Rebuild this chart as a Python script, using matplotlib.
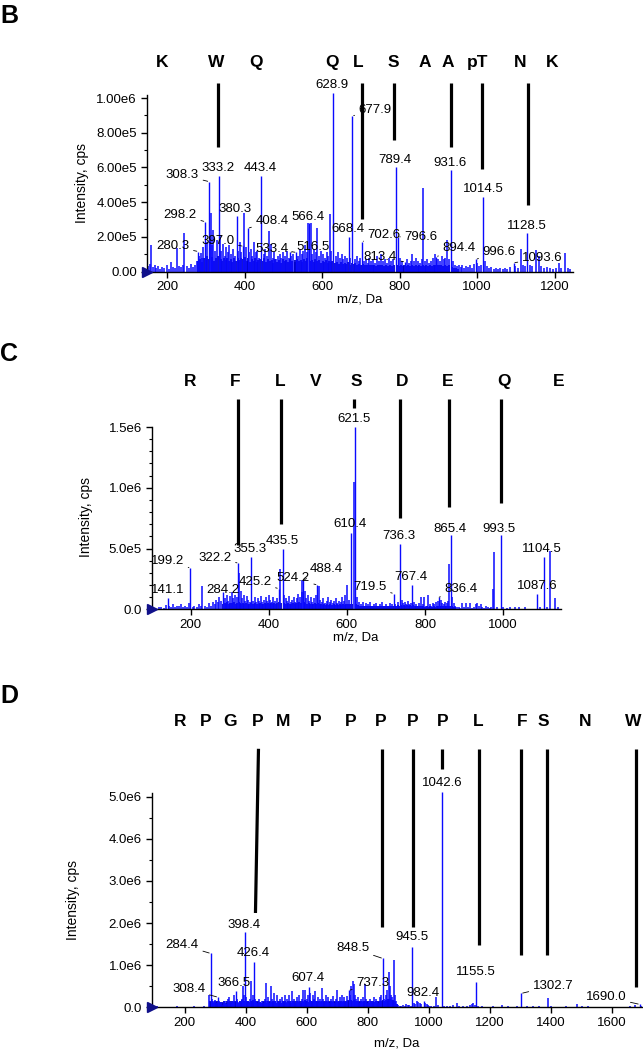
import math
import matplotlib
matplotlib.use('Agg')
import matplotlib.pyplot as plt
from matplotlib.ticker import MultipleLocator, FuncFormatter

plt.rcParams['font.family'] = ['Liberation Sans', 'DejaVu Sans']

# ================= DATA (intensities in kcps) =================
# ---- Panel B ----
b_minor = [
    (152, 30), (156, 45), (159, 153), (163, 25), (168, 35), (172, 20), (177, 30), (182, 15), (188, 25), (193, 20),
    (199, 35), (204, 15), (210, 55), (216, 25), (221, 20), (225, 134), (230, 30), (236, 25), (240, 40), (245, 220),
    (251, 30), (257, 20), (262, 45), (268, 25), (272, 35), (276, 60), (283, 90), (287, 105), (291, 80), (294, 140),
    (302, 170), (311, 200), (313, 337), (316, 150), (319, 240), (324, 120), (328, 180), (336, 210), (340, 120), (345, 160),
    (349, 90), (353, 140), (357, 110), (361, 150), (366, 100), (370, 130), (374, 90), (384, 120), (388, 170), (392, 110),
    (399, 335), (403, 140), (412, 110), (416, 130), (420, 90), (425, 170), (429, 110), (433, 120), (437, 80), (449, 100),
    (453, 130), (458, 90), (463, 233), (468, 160), (472, 80), (476, 110), (481, 70), (486, 90), (491, 100), (495, 80),
    (500, 110), (505, 90), (510, 120), (514, 80), (520, 90), (526, 100), (538, 90), (543, 130), (547, 100), (551, 120),
    (556, 150), (560, 110), (564, 278), (570, 278), (575, 100), (580, 130), (584, 110), (588, 249), (593, 90), (598, 120),
    (603, 100), (608, 80), (612, 110), (616, 90), (620, 331), (624, 120), (635, 90), (640, 110), (645, 80), (650, 100),
    (655, 70), (660, 90), (664, 80), (673, 80), (684, 70), (689, 90), (694, 60), (698, 80), (708, 60), (713, 70),
    (718, 50), (722, 80), (727, 60), (732, 70), (737, 50), (742, 90), (747, 60), (752, 100), (757, 60), (762, 70),
    (767, 50), (772, 80), (777, 60), (782, 70), (801, 80), (805, 60), (818, 70), (823, 50), (828, 60), (833, 100),
    (838, 60), (843, 80), (848, 60), (853, 50), (857, 70), (861, 480), (866, 60), (871, 70), (876, 50), (881, 60),
    (886, 80), (890, 100), (899, 70), (904, 60), (909, 90), (914, 70), (918, 80), (923, 180), (928, 70), (937, 60),
    (942, 40), (947, 30), (952, 40), (957, 25), (962, 35), (967, 20), (972, 30), (977, 25), (982, 35), (987, 20),
    (992, 45), (1000, 50), (1004, 30), (1009, 40), (1020, 60), (1025, 30), (1031, 20), (1036, 25), (1042, 15), (1048, 20),
    (1054, 15), (1060, 20), (1066, 15), (1072, 20), (1078, 15), (1085, 25), (1097, 30), (1104, 20), (1112, 128), (1118, 40),
    (1124, 30), (1136, 40), (1142, 30), (1151, 125), (1160, 90), (1165, 30), (1172, 20), (1180, 25), (1188, 20), (1196, 15),
    (1203, 20), (1210, 50), (1216, 20), (1226, 105), (1235, 20), (1240, 15),
]
# low-level chemical-noise carpet of panel B
b_carpet = [
    (281, 60), (285, 70), (289, 55), (296, 80), (300, 65), (304, 90), (309, 70), (315, 85), (321, 60), (326, 75),
    (331, 90), (338, 70), (343, 60), (347, 80), (351, 65), (355, 75), (359, 60), (364, 70), (368, 55), (372, 80),
    (377, 60), (382, 75), (386, 65), (390, 80), (395, 70), (401, 85), (406, 60), (410, 75), (414, 55), (418, 70),
    (423, 60), (427, 80), (431, 55), (435, 65), (440, 70), (446, 60), (451, 75), (456, 55), (460, 70), (466, 60),
    (470, 65), (474, 50), (479, 70), (484, 55), (488, 65), (493, 50), (498, 70), (503, 60), (508, 65), (512, 55),
    (518, 70), (523, 60), (529, 65), (531, 55), (536, 70), (541, 60), (545, 65), (549, 55), (554, 70), (558, 60),
    (562, 75), (568, 60), (573, 65), (578, 55), (582, 70), (586, 60), (591, 65), (596, 50), (601, 60), (606, 55),
    (610, 65), (614, 50), (618, 60), (622, 55), (626, 60), (632, 50), (638, 55), (643, 45), (648, 55), (653, 45),
    (658, 50), (662, 45), (666, 55), (671, 40), (676, 50), (681, 45), (686, 50), (691, 40), (696, 45), (700, 40),
    (705, 45), (711, 35), (716, 40), (720, 35), (725, 40), (730, 35), (735, 40), (740, 30), (745, 40), (750, 35),
    (755, 40), (760, 30), (765, 35), (770, 30), (775, 40), (780, 30), (785, 35), (792, 40), (799, 30), (803, 35),
    (808, 30), (812, 35), (816, 30), (821, 35), (826, 30), (831, 35), (836, 30), (841, 35), (846, 30), (851, 35),
    (855, 30), (859, 35), (864, 30), (869, 35), (874, 30), (879, 35), (884, 30), (888, 40), (892, 35), (897, 40),
    (902, 35), (907, 40), (912, 30), (916, 35), (921, 30), (926, 35), (934, 25), (940, 20), (945, 20), (950, 15),
]
b_peak_mz = [280.3, 298.2, 308.3, 333.2, 380.3, 397.0, 408.4, 443.4, 533.4, 516.5, 566.4, 628.9,
             668.4, 677.9, 702.6, 789.4, 796.6, 813.4, 894.4, 931.6, 996.6, 1014.5, 1093.6, 1128.5]
b_peak_k = [115, 287, 518, 552, 320, 145, 249, 552, 110, 110, 280, 1030,
            197, 897, 172, 600, 200, 55, 85, 585, 70, 431, 50, 220]
b_peak_text = ['280.3', '298.2', '308.3', '333.2', '380.3', '397.0', '408.4', '443.4', '533.4', '516.5', '566.4', '628.9',
               '668.4', '677.9', '702.6', '789.4', '796.6', '813.4', '894.4', '931.6', '996.6', '1014.5', '1093.6', '1128.5']
b_residues = ['K', 'W', 'Q', 'Q', 'L', 'S', 'A', 'A', 'pT', 'N', 'K']
b_residue_mz = [188, 327, 430, 626, 693, 783, 866, 923, 1002, 1111, 1193]
b_bar_top_mz = [332.4, 703.5, 786, 932.8, 1012.7, 1131]
b_bar_bot_mz = [332.4, 703.5, 786, 932.8, 1012.7, 1131]
b_bar_bot_k = [717, 303, 758, 717, 591, 383]
b_yticks = [0, 2e5, 4e5, 6e5, 8e5, 1e6]
b_xticks = [200, 400, 600, 800, 1000, 1200]

# ---- Panel C ----
c_minor = [
    (118, 15), (125, 20), (131, 10), (137, 35), (146, 30), (151, 15), (156, 40), (160, 20), (165, 30), (170, 25),
    (176, 45), (181, 20), (186, 30), (190, 15), (195, 50), (205, 20), (210, 30), (216, 15), (222, 40), (227, 25),
    (230, 190), (236, 30), (241, 20), (246, 50), (252, 30), (257, 60), (262, 40), (266, 80), (270, 60), (274, 100),
    (278, 70), (288, 90), (292, 120), (296, 70), (300, 110), (305, 145), (309, 90), (313, 120), (318, 100), (325, 300),
    (328, 150), (332, 90), (336, 120), (340, 70), (344, 110), (348, 80), (352, 60), (360, 70), (364, 100), (368, 60),
    (372, 90), (376, 70), (380, 110), (384, 60), (388, 80), (392, 100), (396, 70), (400, 120), (404, 80), (408, 60),
    (412, 100), (416, 70), (420, 90), (430, 330), (440, 120), (444, 90), (448, 70), (452, 110), (456, 60), (460, 80),
    (464, 100), (468, 60), (472, 90), (476, 130), (480, 100), (484, 140), (486, 240), (492, 150), (496, 90), (500, 120),
    (504, 70), (508, 100), (512, 60), (516, 90), (520, 120), (528, 190), (532, 80), (536, 60), (540, 90), (544, 50),
    (548, 70), (552, 100), (556, 60), (560, 80), (564, 50), (568, 70), (572, 90), (576, 50), (580, 70), (584, 60),
    (588, 100), (592, 70), (596, 120), (600, 200), (605, 80), (619, 1050), (626, 100), (630, 60), (635, 40), (640, 60),
    (645, 30), (650, 50), (655, 40), (660, 60), (665, 30), (670, 40), (675, 50), (680, 30), (685, 40), (690, 60),
    (695, 30), (700, 40), (705, 30), (710, 50), (715, 40), (724, 40), (728, 30), (732, 60), (740, 80), (744, 50),
    (748, 60), (752, 40), (756, 70), (760, 40), (764, 50), (772, 60), (776, 40), (780, 30), (785, 50), (790, 100),
    (794, 40), (798, 100), (803, 30), (808, 120), (812, 40), (816, 30), (820, 50), (824, 40), (828, 60), (832, 70),
    (840, 80), (844, 50), (848, 40), (852, 60), (856, 50), (860, 70), (862, 370), (870, 100), (874, 50), (878, 30),
    (882, 20), (886, 15), (890, 10), (895, 50), (900, 20), (905, 50), (910, 15), (915, 50), (920, 10), (925, 20),
    (930, 40), (934, 50), (938, 30), (942, 40), (946, 20), (950, 10), (955, 25), (960, 15), (966, 10), (970, 20),
    (973, 170), (976, 470), (985, 20), (1000, 20), (1010, 10), (1018, 20), (1030, 15), (1040, 20), (1055, 15), (1095, 20),
    (1112, 15), (1121, 480), (1132, 90), (1140, 15),
]
c_carpet = [
    (283, 45), (287, 55), (290, 40), (294, 60), (298, 45), (302, 55), (307, 50), (311, 60), (315, 45), (320, 55),
    (323, 60), (327, 50), (330, 45), (334, 55), (338, 40), (342, 50), (346, 45), (350, 40), (354, 50), (357, 45),
    (362, 40), (366, 50), (370, 45), (374, 40), (378, 50), (382, 45), (386, 40), (390, 50), (394, 45), (398, 55),
    (402, 45), (406, 50), (410, 40), (414, 55), (418, 45), (422, 50), (427, 60), (432, 55), (438, 50), (442, 45),
    (446, 40), (450, 50), (454, 45), (458, 40), (462, 50), (466, 45), (470, 55), (474, 50), (478, 60), (482, 55),
    (490, 60), (494, 50), (498, 45), (502, 50), (506, 40), (510, 45), (514, 40), (518, 50), (522, 45), (526, 50),
    (530, 40), (534, 45), (538, 35), (542, 40), (546, 35), (550, 40), (554, 35), (558, 40), (562, 35), (566, 40),
    (570, 35), (574, 40), (578, 35), (582, 40), (586, 35), (590, 40), (594, 35), (598, 45), (602, 40), (607, 45),
    (612, 40), (624, 40), (628, 35), (633, 30), (638, 25), (643, 30), (648, 25), (653, 30), (658, 25), (663, 30),
    (668, 25), (673, 30), (678, 25), (683, 30), (688, 25), (693, 30), (698, 25), (703, 30), (708, 25), (713, 30),
    (717, 25), (722, 30), (726, 25), (730, 35), (734, 30), (738, 35), (742, 30), (746, 35), (750, 30), (754, 35),
    (758, 30), (762, 35), (766, 30), (770, 35), (774, 30), (778, 25), (782, 30), (788, 25), (792, 30), (796, 25),
    (800, 20), (806, 25), (810, 20), (814, 25), (818, 20), (822, 25), (826, 20), (830, 30), (834, 25), (838, 30),
    (842, 25), (846, 30), (850, 25), (854, 30), (858, 25), (864, 30), (868, 25), (872, 20), (876, 15),
]
c_peak_mz = [141.1, 199.2, 284.2, 322.2, 355.3, 425.2, 435.5, 488.4, 524.2, 610.4, 621.5,
             719.5, 736.3, 767.4, 836.4, 865.4, 993.5, 1087.6, 1104.5]
c_peak_k = [97, 340, 140, 380, 430, 170, 500, 240, 200, 630, 1500,
            130, 540, 200, 100, 610, 610, 130, 430]
c_peak_text = ['141.1', '199.2', '284.2', '322.2', '355.3', '425.2', '435.5', '488.4', '524.2', '610.4', '621.5',
               '719.5', '736.3', '767.4', '836.4', '865.4', '993.5', '1087.6', '1104.5']
c_residues = ['R', 'F', 'L', 'V', 'S', 'D', 'E', 'Q', 'E']
c_residue_mz = [199, 314, 429, 519, 623.5, 741, 858.7, 1002, 1142]
c_bar_top_mz = [321.9, 431, 619.2, 736, 861.3, 994]
c_bar_bot_mz = [321.9, 431, 619.2, 736, 861.3, 994]
c_bar_bot_k = [529, 702, 1654, 754, 840, 872]
c_yticks = [0, 5e5, 1e6, 1.5e6]
c_xticks = [200, 400, 600, 800, 1000]

# ---- Panel D ----
d_minor = [
    (110, 20), (175, 30), (230, 20), (262, 20), (280, 300), (288, 200), (292, 150), (296, 120), (300, 180), (304, 100),
    (312, 150), (316, 80), (320, 120), (324, 60), (328, 100), (332, 150), (336, 80), (340, 200), (346, 250), (350, 120),
    (354, 80), (358, 150), (362, 300), (370, 200), (374, 120), (378, 80), (382, 150), (386, 200), (390, 500), (395, 300),
    (402, 250), (406, 150), (410, 100), (414, 200), (418.6, 630), (422, 300), (430, 200), (434, 150), (438, 100), (442, 200),
    (446, 120), (450, 80), (454, 150), (458, 100), (462, 200), (466.7, 580), (470, 150), (474, 250), (478, 100), (483, 500),
    (487, 200), (491, 350), (495, 150), (499, 100), (503, 300), (507, 120), (511, 200), (515, 100), (519, 250), (523, 150),
    (527, 300), (531, 120), (535, 200), (539, 100), (543, 300), (547, 150), (551, 380), (555, 120), (559, 200), (563, 100),
    (567, 250), (571, 150), (575, 300), (579, 100), (583, 200), (587, 400), (591, 150), (595, 420), (599, 200), (603, 300),
    (611, 350), (615, 150), (619, 300), (623, 200), (627, 380), (631, 150), (635, 250), (639, 100), (643, 200), (647, 150),
    (650, 450), (654, 200), (658, 120), (662, 300), (666, 150), (670, 250), (674, 100), (678, 200), (682, 150), (686, 280),
    (690, 100), (694, 200), (699, 400), (703, 150), (707, 250), (711, 100), (715, 300), (719, 150), (723, 250), (727, 120),
    (733, 280), (741, 300), (745, 500), (750, 620), (753, 550), (757, 300), (761, 200), (765, 150), (769, 250), (773, 100),
    (777, 200), (781, 150), (785, 250), (791.6, 550), (795, 200), (799, 100), (803, 150), (807, 200), (811, 100), (815, 150),
    (819, 250), (823, 120), (827, 200), (831, 150), (835, 100), (839, 250), (843, 300), (852, 200), (856, 150), (860, 300),
    (864, 400), (868, 830), (872, 500), (876, 300), (880, 250), (884, 1120), (888, 300), (892, 150), (896, 80), (900, 50),
    (905, 40), (910, 30), (915, 60), (920, 40), (925, 80), (930, 50), (935, 60), (940, 40), (950, 100), (955, 80),
    (960, 150), (965, 120), (970, 100), (975, 80), (988, 100), (992, 80), (996, 60), (1000, 40), (1008, 30), (1015, 40),
    (1024, 250), (1030, 60), (1050, 30), (1060, 40), (1070, 30), (1080, 50), (1091, 100), (1100, 30), (1110, 20), (1125, 30),
    (1135, 50), (1140, 80), (1145, 100), (1150, 60), (1162, 30), (1175, 20), (1190, 15), (1210, 30), (1240, 60), (1260, 20),
    (1290, 40), (1320, 30), (1340, 20), (1360, 40), (1391, 210), (1400, 30), (1420, 15), (1450, 20), (1485, 70), (1500, 40),
    (1520, 20), (1550, 15), (1600, 10), (1660, 20), (1675, 60), (1695, 40),
]
d_carpet = [
    (282, 150), (286, 120), (290, 160), (294, 110), (298, 140), (302, 120), (306, 150), (310, 100), (314, 130), (318, 90),
    (322, 120), (326, 100), (330, 140), (334, 110), (338, 150), (343, 120), (348, 160), (352, 110), (356, 140), (360, 120),
    (364, 150), (368, 130), (372, 160), (376, 110), (380, 140), (384, 120), (388, 170), (393, 150), (400, 160), (404, 130),
    (408, 150), (412, 120), (416, 160), (420, 140), (424, 170), (428, 130), (432, 150), (436, 120), (440, 140), (444, 110),
    (448, 130), (452, 100), (456, 140), (460, 120), (464, 150), (468, 110), (472, 140), (476, 120), (480, 150), (485, 130),
    (489, 160), (493, 120), (497, 140), (501, 110), (505, 150), (509, 120), (513, 140), (517, 110), (521, 150), (525, 120),
    (529, 140), (533, 110), (537, 150), (541, 120), (545, 140), (549, 110), (553, 150), (557, 120), (561, 140), (565, 110),
    (569, 150), (573, 120), (577, 140), (581, 110), (585, 160), (589, 130), (593, 170), (597, 140), (601, 160), (605, 130),
    (609, 170), (613, 140), (617, 160), (621, 130), (625, 170), (629, 140), (633, 160), (637, 120), (641, 150), (645, 120),
    (649, 160), (652, 130), (656, 150), (660, 120), (664, 160), (668, 130), (672, 150), (676, 120), (680, 160), (684, 130),
    (688, 150), (692, 120), (696, 160), (701, 130), (705, 150), (709, 120), (713, 160), (717, 130), (721, 150), (725, 120),
    (729, 160), (731, 130), (735, 170), (739, 140), (743, 180), (747, 160), (755, 170), (759, 140), (763, 160), (767, 130),
    (771, 150), (775, 120), (779, 150), (783, 120), (787, 160), (789, 140), (793, 150), (797, 120), (801, 140), (805, 110),
    (809, 140), (813, 110), (817, 150), (821, 120), (825, 140), (829, 110), (833, 150), (837, 120), (841, 160), (845, 140),
    (850, 170), (854, 150), (858, 180), (862, 160), (866, 200), (870, 180), (874, 200), (878, 170), (882, 180), (886, 150),
    (890, 120), (894, 90),
]
d_peak_mz = [284.4, 308.4, 366.5, 398.4, 426.4, 607.4, 737.3, 848.5, 945.5, 982.4, 1042.6, 1155.5, 1302.7, 1690.0]
d_peak_k = [1280, 240, 390, 1780, 1080, 490, 400, 1160, 1440, 150, 5120, 610, 330, 70]
d_peak_text = ['284.4', '308.4', '366.5', '398.4', '426.4', '607.4', '737.3', '848.5', '945.5', '982.4',
               '1042.6', '1155.5', '1302.7', '1690.0']
d_residues = ['R', 'P', 'G', 'P', 'M', 'P', 'P', 'P', 'P', 'P', 'L', 'F', 'S', 'N', 'W']
d_residue_mz = [186, 268, 350, 438, 523, 628, 742.5, 841, 945.5, 1044, 1161.5, 1305.5, 1374, 1511.6, 1668.6]
d_bar_top_mz = [441.5, 847.2, 947.7, 1042.6, 1162.4, 1302, 1388, 1678]
d_bar_bot_mz = [431.6, 847.2, 947.7, 1042.6, 1162.4, 1302, 1388, 1678]
d_bar_bot_k = [2240, 1910, 1910, 5650, 1480, 1240, 1240, 490]
d_yticks = [0, 1e6, 2e6, 3e6, 4e6, 5e6]
d_xticks = [200, 400, 600, 800, 1000, 1200, 1400, 1600]

# ================= LAYOUT =================
W, H = 643, 1049
# label text positions (m/z, kcps) and whether a leader line is drawn
b_label_pos = [(215, 147, 1), (234, 327, 1), (239.7, 556, 1), (331, 595, 0), (376, 360, 0), (331, 176, 1),
               (470.8, 291, 1), (441.4, 595, 0), (471.5, 130, 1), (577.5, 141, 1), (564.3, 314, 0), (625, 1075, 0),
               (665.6, 245, 0), (737, 930, 1), (760, 212, 1), (788, 643, 0), (855, 197, 1), (750, 83, 1),
               (953, 135, 1), (928.6, 627, 0), (1056.5, 114, 1), (1016, 475, 0), (1167.5, 76, 1), (1128, 262, 0)]
c_label_pos = [(140.4, 159, 0), (140.9, 397, 1), (282.8, 159, 0), (262.3, 420, 1), (352.6, 494, 0), (364.6, 227, 1),
               (433.6, 562, 0), (547, 330, 1), (462.6, 255, 1), (608, 700, 0), (619, 1566, 0),
               (659, 186, 1), (733, 603, 0), (764, 266, 0), (892, 165, 1), (862.5, 658, 0), (989, 658, 0),
               (1086.2, 190, 0), (1100, 496, 0)]
d_label_pos = [(191.8, 1480, 1), (213.4, 430, 1), (362.3, 580, 0), (393.4, 1955, 0), (423.5, 1300, 0),
               (603.4, 690, 0), (816, 570, 1), (750.7, 1400, 1), (943, 1680, 0), (979, 350, 0),
               (1042.6, 5320, 0), (1152.5, 830, 0), (1406.8, 510, 1), (1580, 250, 1)]

panels = [
    dict(letter='B', letter_py=4, rect_px=(146.5, 95, 573, 271.5), xlim=(147, 1247), ylim=(0, 1.0173e6),
         minor=b_minor, carpet=b_carpet, pmz=b_peak_mz, pk=b_peak_k, ptxt=b_peak_text, lpos=b_label_pos,
         res=b_residues, res_mz=b_residue_mz, res_k=1207, bar_top_k=1086,
         btm=b_bar_top_mz, bbm=b_bar_bot_mz, bbk=b_bar_bot_k,
         yticks=b_yticks, xticks=b_xticks, ydec=2, yminor=1e5,
         ylab_px=(82, 183), xlab_px=(360, 300)),
    dict(letter='C', letter_py=342, rect_px=(151.5, 427, 561, 609.3), xlim=(100, 1148), ylim=(0, 1.5e6),
         minor=c_minor, carpet=c_carpet, pmz=c_peak_mz, pk=c_peak_k, ptxt=c_peak_text, lpos=c_label_pos,
         res=c_residues, res_mz=c_residue_mz, res_k=1871, bar_top_k=1731,
         btm=c_bar_top_mz, bbm=c_bar_bot_mz, bbk=c_bar_bot_k,
         yticks=c_yticks, xticks=c_xticks, ydec=1, yminor=1e5,
         ylab_px=(86, 517), xlab_px=(356, 638)),
    dict(letter='D', letter_py=684, rect_px=(151.5, 793, 642, 1007.3), xlim=(91, 1698), ylim=(0, 5.09e6),
         minor=d_minor, carpet=d_carpet, pmz=d_peak_mz, pk=d_peak_k, ptxt=d_peak_text, lpos=d_label_pos,
         res=d_residues, res_mz=d_residue_mz, res_k=6780, bar_top_k=6140,
         btm=d_bar_top_mz, bbm=d_bar_bot_mz, bbk=d_bar_bot_k,
         yticks=d_yticks, xticks=d_xticks, ydec=1, yminor=5e5,
         ylab_px=(73, 900), xlab_px=(397, 1043)),
]

BLUE = '#0a0aff'
LABEL_FS = 9.5


def make_fmt(dec):
    def f(v, pos):
        if v == 0:
            return f'{0:.{dec}f}'
        e = int(math.floor(math.log10(v) + 1e-9))
        return f'{v / 10 ** e:.{dec}f}e{e}'
    return f


fig = plt.figure(figsize=(W / 100, H / 100), dpi=100)

for p in panels:
    l, t, r, b = p['rect_px']
    ax = fig.add_axes([l / W, 1 - b / H, (r - l) / W, (b - t) / H])
    ax.set_xlim(*p['xlim'])
    ax.set_ylim(*p['ylim'])
    for s in ('top', 'right'):
        ax.spines[s].set_visible(False)
    for s in ('left', 'bottom'):
        ax.spines[s].set_linewidth(1.0)

    ax.vlines([m for m, k in p['carpet']], 0, [k * 1e3 for m, k in p['carpet']],
              colors='#0000c8', lw=1.3, clip_on=False, zorder=2)
    ax.vlines([m for m, k in p['minor']], 0, [k * 1e3 for m, k in p['minor']],
              colors=BLUE, lw=1.1, clip_on=False, zorder=2)
    ax.vlines(p['pmz'], 0, [k * 1e3 for k in p['pk']], colors=BLUE, lw=1.0, clip_on=False, zorder=2)

    for m, k, txt, (tx, ty, lead) in zip(p['pmz'], p['pk'], p['ptxt'], p['lpos']):
        if lead:
            ax.annotate(txt, xy=(m, k * 1e3), xytext=(tx, ty * 1e3), ha='center', va='center',
                        fontsize=LABEL_FS, annotation_clip=False,
                        arrowprops=dict(arrowstyle='-', lw=0.6, color='black', shrinkA=1, shrinkB=1))
        else:
            ax.text(tx, ty * 1e3, txt, ha='center', va='center', fontsize=LABEL_FS, clip_on=False)

    for rname, rm in zip(p['res'], p['res_mz']):
        ax.text(rm, p['res_k'] * 1e3, rname, ha='center', va='center', fontsize=12.5,
                fontweight='bold', clip_on=False)
    for tm, bm, bk in zip(p['btm'], p['bbm'], p['bbk']):
        ax.plot([tm, bm], [p['bar_top_k'] * 1e3, bk * 1e3], color='black', lw=2.3,
                solid_capstyle='butt', clip_on=False, zorder=3)

    ax.set_yticks(p['yticks'])
    ax.yaxis.set_minor_locator(MultipleLocator(p['yminor']))
    ax.yaxis.set_major_formatter(FuncFormatter(make_fmt(p['ydec'])))
    ax.set_xticks(p['xticks'])
    ax.tick_params(axis='both', which='major', direction='out', length=4, width=1, labelsize=9.5, pad=3)
    ax.tick_params(axis='y', which='minor', direction='out', length=2, width=0.8)
    ax.plot([p['xlim'][0]], [0], marker='>', color='#10108a', markersize=7, clip_on=False, zorder=5)

    fig.text(0.0, 1 - p['letter_py'] / H, p['letter'], fontsize=18, fontweight='bold', ha='left', va='top')
    fig.text(p['ylab_px'][0] / W, 1 - p['ylab_px'][1] / H, 'Intensity, cps', rotation=90,
             ha='center', va='center', fontsize=10)
    fig.text(p['xlab_px'][0] / W, 1 - p['xlab_px'][1] / H, 'm/z, Da', ha='center', va='center', fontsize=9.5)

fig.savefig('out.png', dpi=100)
